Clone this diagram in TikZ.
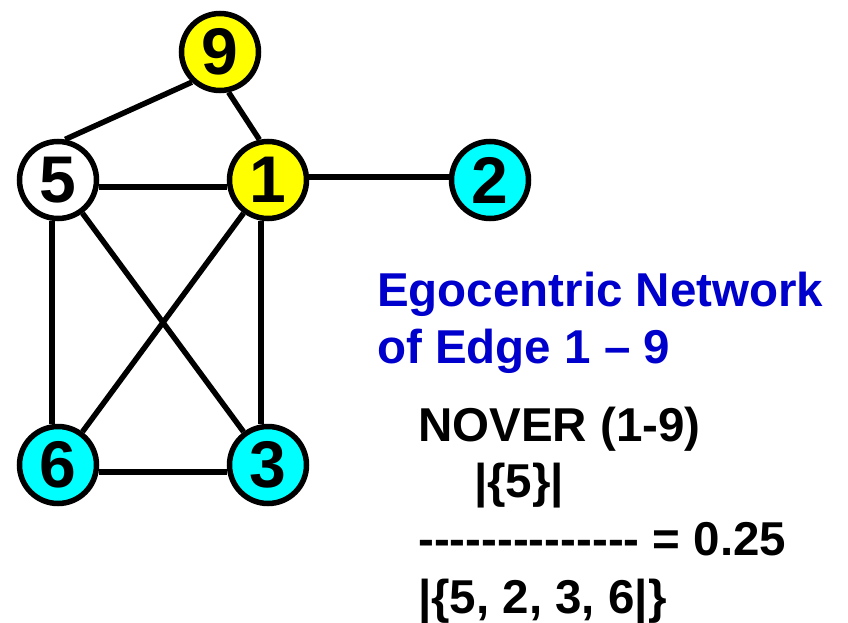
\documentclass[tikz,border=0pt]{standalone}
\usepackage{fontspec}
\setmainfont[Ligatures=TeXOff]{Liberation Sans}
\definecolor{nodeyellow}{RGB}{255,255,0}
\definecolor{nodecyan}{RGB}{0,255,255}
\definecolor{titleblue}{RGB}{0,0,204}
\begin{document}
\begin{tikzpicture}[x=1pt,y=-1pt,
  vert/.style={circle,draw=black,line width=5.5pt,minimum size=77pt,inner sep=0pt,
    font=\fontsize{66}{66}\selectfont\bfseries},
  edge/.style={line width=5.5pt,draw=black},
  txt/.style={anchor=base west,inner sep=0pt,font=\fontsize{47.5}{47.5}\selectfont\bfseries}]
\useasboundingbox (0,0) rectangle (848,623);
\node[vert,fill=nodeyellow] (n9) at (220,52) {9};
\node[vert,fill=white] (n5) at (58,180) {5};
\node[vert,fill=nodeyellow] (n1) at (268,180) {1};
\node[vert,fill=nodecyan] (n2) at (490,180) {2};
\node[vert,fill=nodecyan] (n6) at (58,465) {6};
\node[vert,fill=nodecyan] (n3) at (268,465) {3};
\draw[edge] (n9.227) -- (n5.80);
\draw[edge] (n9.-78) -- (n1.102);
\draw[edge] ([yshift=-7pt]n5.east) -- ([yshift=-7pt]n1.west);
\draw[edge] ([yshift=3pt]n1.east) -- ([yshift=3pt]n2.west);
\draw[edge] ([xshift=-6pt]n5.south) -- ([xshift=-6pt]n6.north);
\draw[edge] ([xshift=-7pt]n1.south) -- ([xshift=-7pt]n3.north);
\draw[edge] (n5) -- (n3);
\draw[edge] (n1) -- (n6);
\draw[edge] ([yshift=-7pt]n6.east) -- ([yshift=-7pt]n3.west);
\node[txt,text=titleblue] (t1) at (377,306) {Egocentric Network};
\node[txt,text=titleblue] (t2) at (377,363) {of Edge 1 – 9};
\node[txt] (t3) at (418,441) {NOVER (1-9)};
\node[txt] (t4) at (474,497) {|\{5\}|};
\node[txt] (t5) at (418,555) {-------------- = 0.25};
\node[txt] (t6) at (418,613) {|\{5, 2, 3, 6|\}};
\end{tikzpicture}
\end{document}
